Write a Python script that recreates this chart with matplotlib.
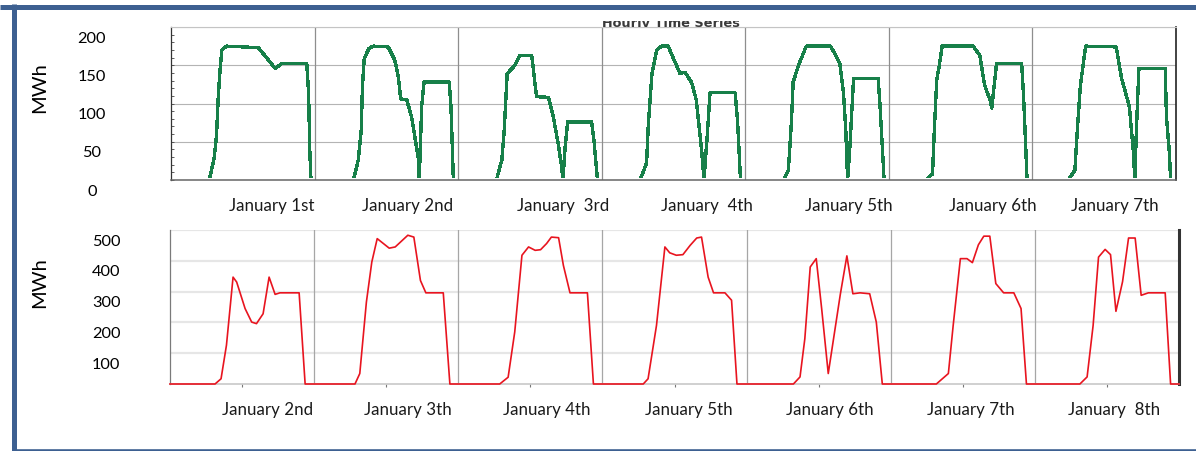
import matplotlib
matplotlib.use("Agg")
import matplotlib.pyplot as plt
import matplotlib.transforms as mtransforms
from matplotlib.lines import Line2D
from matplotlib.patches import Rectangle

plt.rcParams['font.family'] = ['Lato', 'DejaVu Sans']

# hourly series, time in hours from the start of the week
top_days = ["January 1st", "January 2nd", "January  3rd", "January  4th",
            "January 5th", "January 6th", "January 7th"]
top_hours = [0, 6.4, 7.2, 7.6, 7.9, 8.2, 8.5, 9.3, 14.6, 17.4, 18.5, 22.7, 23.0, 23.2, 23.4,
             30.5, 31.3, 31.8, 32.0, 32.3, 33.1, 33.8, 36.3, 37.4, 38.0, 38.4, 39.4, 40.2, 41.4, 41.5, 41.9, 42.3, 46.5, 46.8, 47.2,
             54.4, 55.3, 55.7, 56.2, 57.5, 58.3, 60.3, 61.1, 63.1, 63.9, 64.8, 65.3, 65.5, 65.9, 66.3, 70.3, 70.7, 71.3,
             78.4, 79.5, 79.8, 80.4, 81.2, 82.0, 83.1, 85.1, 85.9, 87.0, 87.8, 88.7, 89.1, 89.7, 90.1, 94.3, 94.7, 95.2,
             102.4, 103.2, 103.7, 104.0, 104.9, 106.2, 110.2, 111.0, 111.8, 112.4, 112.8, 113.1, 113.5, 114.1, 118.2, 118.5, 119.0, 119.2,
             126.2, 127.3, 127.6, 128.0, 128.4, 128.9, 134.1, 135.2, 136.0, 136.9, 137.2, 138.0, 142.2, 142.5, 142.9, 143.1,
             150.0, 151.1, 151.5, 152.0, 152.5, 152.9, 158.0, 158.9, 160.2, 160.9, 161.1, 161.4, 161.8, 166.2, 166.4, 166.9, 167.1, 168]
top_mwh = [0, 0, 28, 57, 109, 144, 170, 175, 173, 146, 152, 152, 113, 39, 0,
           0, 26, 65, 122, 159, 172, 175, 174, 157, 135, 106, 105, 83, 26, 0, 96, 128, 128, 96, 0,
           0, 26, 65, 139, 150, 163, 163, 109, 108, 83, 44, 17, 0, 44, 76, 76, 52, 0,
           0, 22, 74, 139, 170, 175, 175, 139, 141, 128, 105, 39, 0, 65, 114, 114, 78, 0,
           0, 13, 74, 128, 150, 175, 175, 165, 152, 115, 65, 0, 45, 133, 133, 100, 30, 0,
           0, 8, 65, 131, 148, 175, 175, 163, 124, 105, 94, 152, 152, 113, 39, 0,
           0, 13, 65, 122, 152, 175, 174, 133, 96, 35, 0, 70, 146, 146, 83, 35, 0, 0]

bottom_days = ["January 2nd", "January 3th", "January 4th", "January 5th",
               "January 6th", "January 7th", "January  8th"]
bottom_hours = [0, 7.5, 8.5, 9.4, 10.5, 11.1, 12.5, 13.6, 14.4, 15.5, 16.5, 17.5, 18.3, 21.5, 22.5,
                30.8, 31.6, 32.7, 33.6, 34.5, 36.5, 37.5, 39.6, 40.6, 41.7, 42.6, 45.5, 46.6,
                54.9, 56.3, 57.4, 58.6, 59.7, 60.8, 61.7, 62.7, 63.5, 64.7, 65.5, 66.6, 69.5, 70.5,
                78.8, 79.6, 81.0, 82.4, 83.2, 84.3, 85.4, 86.6, 87.7, 88.5, 89.6, 90.5, 92.4, 93.5, 94.4,
                103.8, 104.9, 105.7, 106.6, 107.6, 108.5, 109.6, 111.6, 112.7, 113.7, 114.9, 116.5, 117.6, 118.6,
                127.6, 129.6, 130.4, 131.6, 132.7, 133.6, 134.6, 135.5, 136.5, 137.5, 138.8, 140.5, 141.7, 142.6,
                151.5, 152.7, 153.7, 154.6, 155.7, 156.6, 157.5, 158.6, 159.6, 160.7, 161.7, 162.9, 165.7, 166.6, 168]
bottom_mwh = [0, 0, 17, 126, 347, 331, 245, 201, 196, 228, 347, 291, 296, 296, 0,
              0, 34, 266, 396, 472, 441, 445, 483, 477, 336, 296, 296, 0,
              0, 22, 169, 418, 445, 434, 436, 456, 477, 475, 385, 296, 296, 0,
              0, 17, 190, 445, 426, 418, 420, 450, 474, 477, 347, 296, 296, 272, 0,
              0, 23, 147, 380, 407, 245, 34, 290, 416, 293, 296, 293, 201, 0,
              0, 34, 190, 407, 407, 394, 452, 480, 480, 326, 296, 296, 245, 0,
              0, 23, 190, 412, 437, 420, 236, 332, 474, 474, 288, 296, 296, 0, 0]

# where the day captions sit along the time axis
top_label_at = [16.9, 39.5, 65.5, 89.6, 113.3, 137.4, 157.8]
bottom_label_at = [16.2, 39.6, 62.8, 86.3, 109.9, 133.4, 157.2]

W, H = 1196, 451
fig = plt.figure(figsize=(W / 100, H / 100), dpi=100)


def box(left, top, right, bottom):
    return [left / W, 1 - bottom / H, (right - left) / W, (bottom - top) / H]


def shift_down(px):
    return mtransforms.ScaledTranslation(0, -px / 100, fig.dpi_scale_trans)


ax1 = fig.add_axes(box(171, 27, 1176, 180))
ax2 = fig.add_axes(box(170, 230, 1179, 384))

# generation panel; clipped just above zero so the idle hours do not show
gen_line, = ax1.plot(top_hours, top_mwh, color='#178049', lw=1.7, antialiased=False, zorder=2)
gen_line.set_clip_path(Rectangle((0, 0.013), 1, 1, transform=ax1.transAxes))
ax1.set_xlim(0, 168)
ax1.set_yticks(range(0, 201, 50), [str(v) for v in range(0, 201, 50)])
ax1.set_yticks(range(10, 201, 10), minor=True)
ax1.set_ylim(0, 200)
ax1.yaxis.grid(True, color='#b4b4b4', lw=0.8)
ax1.set_axisbelow(True)
for d in range(1, len(top_days)):
    ax1.axvline(24 * d, color='#8e8e8e', lw=0.9, zorder=1)
ax1.set_xticks(top_label_at, top_days)
ax1.tick_params(axis='x', length=0, pad=13, labelsize=12.2, labelcolor='#1a1a1a')
ax1.tick_params(axis='y', which='both', direction='in', length=2, width=0.6,
                color='#444444', pad=57, labelsize=11.8)
for lab in ax1.get_yticklabels():
    lab.set_ha('center')
    lab.set_transform(lab.get_transform() + shift_down(10))
ax1.spines['left'].set_color('#333333')
ax1.spines['left'].set_linewidth(0.9)
ax1.spines['bottom'].set_color('#666666')
ax1.spines['bottom'].set_linewidth(1.1)
ax1.spines['top'].set_color('#c4c4c4')
ax1.spines['top'].set_linewidth(0.8)
ax1.spines['right'].set_color('#222222')
ax1.spines['right'].set_linewidth(1.2)
ax1.set_ylabel('MWh', fontsize=14.5, va='center')
ax1.yaxis.set_label_coords((40 - 171) / 1005, (180 - 88) / 153)

# demand panel
ax2.plot(bottom_hours, bottom_mwh, color='#e8141f', lw=1.2, clip_on=False, zorder=3)
ax2.set_xlim(0, 168)
ax2.set_yticks(range(100, 501, 100), [str(v) for v in range(100, 501, 100)])
ax2.set_ylim(0, 500)
ax2.yaxis.grid(True, color='#e6e6e6', lw=1.6)
ax2.set_axisbelow(True)
for d in range(1, len(bottom_days)):
    ax2.axvline(24 * d, color='#a6a6a6', lw=0.9, zorder=1)
ax2.set_xticks(bottom_label_at, bottom_days)
ax2.set_xticks([24 * d + 12 for d in range(len(bottom_days))], minor=True)
ax2.tick_params(axis='x', which='major', length=0, pad=13, labelsize=12.2, labelcolor='#1a1a1a')
ax2.tick_params(axis='x', which='minor', length=2.5, width=0.8, color='#777777')
ax2.tick_params(axis='y', length=0, pad=46, labelsize=11.8)
for lab in ax2.get_yticklabels():
    lab.set_ha('center')
    lab.set_transform(lab.get_transform() + shift_down(10))
ax2.spines['top'].set_visible(False)
ax2.spines['left'].set_color('#7a7a7a')
ax2.spines['left'].set_linewidth(0.9)
ax2.spines['bottom'].set_color('#c8c8c8')
ax2.spines['bottom'].set_linewidth(1.2)
ax2.spines['right'].set_color('#333333')
ax2.spines['right'].set_linewidth(2.2)
ax2.set_ylabel('MWh', fontsize=14.5, va='center')
ax2.yaxis.set_label_coords((40 - 170) / 1009, (384 - 283) / 154)

# small series caption, partly hidden behind the panel's top edge
title = fig.text(671 / W, 1 - 27 / H, 'Hourly Time Series', ha='center', va='baseline',
                 fontsize=9.3, fontweight='bold', family='DejaVu Sans', color='#3a3a3a')
title.set_clip_path(Rectangle((0, 1 - 27 / H), 1, 6.5 / H, transform=fig.transFigure))

# blue frame round the figure
blue = '#3d6091'
for xs, ys, w in [((0, W), (6.5, 6.5), 5),
                  ((14.2, 14.2), (4, H), 5),
                  ((12, W), (449.8, 449.8), 2.6)]:
    fig.add_artist(Line2D([x / W for x in xs], [1 - y / H for y in ys],
                          transform=fig.transFigure, color=blue, lw=w * 0.72,
                          solid_capstyle='butt'))

fig.savefig('out.png', dpi=100)
